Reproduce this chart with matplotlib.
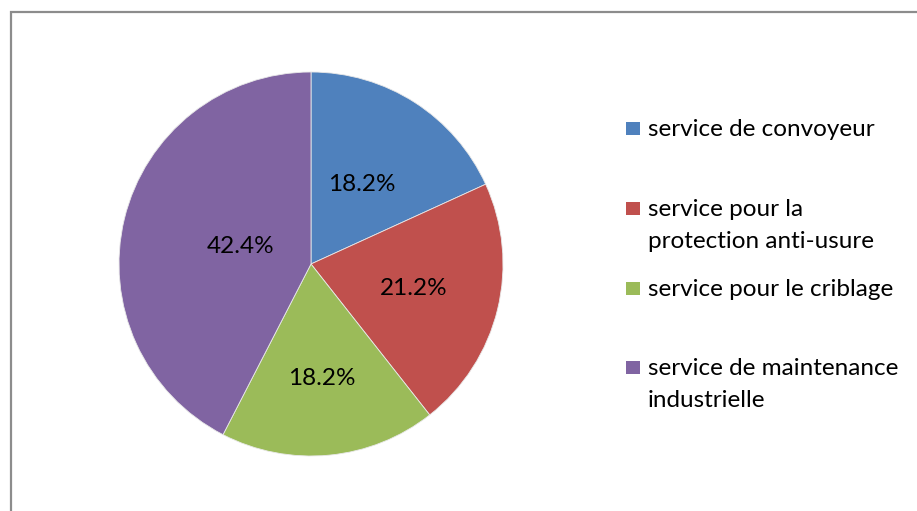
import numpy as np
import matplotlib.pyplot as plt
from matplotlib.patches import Rectangle

plt.rcParams['font.family'] = ['Lato', 'DejaVu Sans']

labels = [
    "service de convoyeur",
    "service pour la\nprotection anti-usure",
    "service pour le criblage",
    "service de maintenance\nindustrielle",
]
counts = [6, 7, 6, 14]
colors = ["#4F81BD", "#C0504D", "#9BBB59", "#8064A2"]

# radial position of each percentage label (fraction of radius)
label_dist = [0.49, 0.55, 0.60, 0.38]
# legend rows: baseline of first text line, in pixels from the top
legend_base = [136, 216, 296, 375]
line_step = 32

W, H = 917, 511
fig = plt.figure(figsize=(W / 100, H / 100), dpi=100)
fig.patch.set_facecolor("white")

# outer frame (runs past the right and bottom edges)
fig.patches.append(Rectangle((11 / W, -0.1), 1.2, (H - 12) / H + 0.1,
                             transform=fig.transFigure, fill=False,
                             edgecolor="#8c8c8c", lw=1.6))

cx, cy, r = 311, 264, 192
ax = fig.add_axes([(cx - r) / W, (H - cy - r) / H, 2 * r / W, 2 * r / H])
wedges, _ = ax.pie(counts, colors=colors, startangle=90, counterclock=False,
                   radius=1, wedgeprops=dict(edgecolor="#e8e8e8", linewidth=0.6))
ax.set_xlim(-1, 1)
ax.set_ylim(-1, 1)
ax.set_aspect("equal")
ax.axis("off")

total = sum(counts)
for w, c, d in zip(wedges, counts, label_dist):
    mid = np.deg2rad((w.theta1 + w.theta2) / 2)
    ax.text(d * np.cos(mid), d * np.sin(mid), f"{100 * c / total:.1f}%",
            ha="center", va="center", fontsize=17.5, color="black")

for lbl, col, yb in zip(labels, colors, legend_base):
    fig.patches.append(Rectangle((626 / W, (H - yb + 1) / H), 14 / W, 13 / H,
                                 transform=fig.transFigure, facecolor=col,
                                 edgecolor="none"))
    for i, line in enumerate(lbl.split("\n")):
        fig.text(648 / W, (H - yb - i * line_step) / H, line, ha="left",
                 va="baseline", fontsize=17.5, color="black")

fig.savefig("out.png", dpi=100)
